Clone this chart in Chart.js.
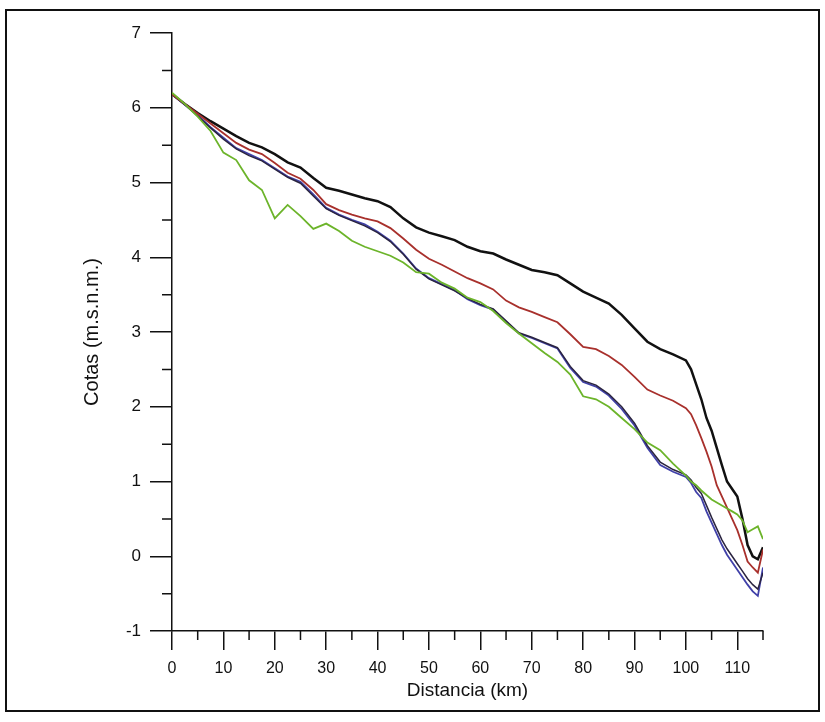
<!DOCTYPE html>
<html>
<head>
<meta charset="utf-8">
<script src="https://cdn.jsdelivr.net/npm/chart.js@4"></script>
<style>
  html, body { margin: 0; padding: 0; background: #fff; }
  #wrap { width: 825px; height: 722px; }
</style>
</head>
<body>
<div id="wrap"><canvas id="perfil" width="825" height="722"></canvas></div>
<script>
// distancias (km)
const distancia = [0, 2.5, 5, 7.5, 10, 12.5, 15, 17.5, 20, 22.5, 25, 27.5, 30, 32.5, 35, 37.5, 40, 42.5, 45, 47.5,
  50, 52.5, 55, 57.5, 60, 62.5, 65, 67.5, 70, 72.5, 75, 77.5, 80, 82.5, 85, 87.5, 90, 92.5, 95, 97.5,
  100, 101, 102, 103, 104, 105, 106, 107, 108, 109, 110, 111, 112, 113, 114, 115];

const cotaNegra = [6.18, 6.05, 5.93, 5.82, 5.72, 5.62, 5.53, 5.47, 5.38, 5.27, 5.20, 5.06, 4.93, 4.89, 4.84, 4.79, 4.75, 4.67, 4.52, 4.40,
  4.33, 4.28, 4.23, 4.14, 4.08, 4.05, 3.97, 3.90, 3.83, 3.80, 3.76, 3.65, 3.54, 3.46, 3.38, 3.23, 3.05, 2.87, 2.77, 2.70,
  2.62, 2.50, 2.30, 2.10, 1.85, 1.68, 1.45, 1.22, 1.00, 0.90, 0.80, 0.50, 0.15, 0.00, -0.04, 0.12];

const cotaRoja = [6.18, 6.05, 5.92, 5.79, 5.66, 5.53, 5.44, 5.38, 5.26, 5.13, 5.05, 4.90, 4.71, 4.63, 4.57, 4.52, 4.48, 4.39, 4.25, 4.10,
  3.98, 3.90, 3.81, 3.72, 3.65, 3.57, 3.42, 3.33, 3.27, 3.20, 3.13, 2.97, 2.80, 2.77, 2.68, 2.56, 2.40, 2.23, 2.15, 2.08,
  1.98, 1.90, 1.75, 1.58, 1.40, 1.20, 0.95, 0.80, 0.65, 0.50, 0.35, 0.15, -0.07, -0.15, -0.22, 0.09];

const cotaAzul = [6.18, 6.04, 5.90, 5.74, 5.60, 5.46, 5.38, 5.30, 5.19, 5.08, 5.01, 4.84, 4.66, 4.57, 4.50, 4.44, 4.34, 4.22, 4.05, 3.85,
  3.72, 3.64, 3.56, 3.44, 3.36, 3.30, 3.14, 2.98, 2.92, 2.85, 2.78, 2.52, 2.33, 2.27, 2.15, 1.97, 1.75, 1.45, 1.22, 1.13,
  1.06, 0.98, 0.86, 0.78, 0.60, 0.45, 0.30, 0.15, 0.02, -0.08, -0.18, -0.28, -0.38, -0.47, -0.53, -0.15];

const cotaOscura = [6.18, 6.04, 5.89, 5.73, 5.58, 5.45, 5.36, 5.29, 5.18, 5.07, 4.99, 4.82, 4.65, 4.56, 4.49, 4.42, 4.33, 4.21, 4.04, 3.84,
  3.71, 3.63, 3.55, 3.45, 3.37, 3.31, 3.15, 2.99, 2.93, 2.86, 2.79, 2.54, 2.35, 2.29, 2.17, 2.00, 1.78, 1.48, 1.26, 1.16,
  1.09, 1.02, 0.92, 0.84, 0.68, 0.52, 0.37, 0.22, 0.10, 0.00, -0.10, -0.20, -0.30, -0.38, -0.44, -0.22];

const cotaVerde = [6.20, 6.05, 5.88, 5.69, 5.40, 5.30, 5.03, 4.90, 4.52, 4.70, 4.55, 4.38, 4.45, 4.35, 4.22, 4.14, 4.08, 4.02, 3.93, 3.80,
  3.78, 3.66, 3.58, 3.46, 3.40, 3.28, 3.12, 2.98, 2.85, 2.72, 2.60, 2.43, 2.14, 2.10, 2.00, 1.85, 1.70, 1.52, 1.42, 1.24,
  1.08, 1.00, 0.95, 0.88, 0.82, 0.76, 0.72, 0.68, 0.64, 0.60, 0.56, 0.48, 0.32, 0.36, 0.40, 0.23];

const ticksX = [0, 10, 20, 30, 40, 50, 60, 70, 80, 90, 100, 110];
const ticksY = [-1, 0, 1, 2, 3, 4, 5, 6, 7];

function puntos(ys) {
  return distancia.map((d, i) => ({ x: d, y: ys[i] }));
}

const fuente = "'Liberation Sans Narrow', 'Liberation Sans', Arial, sans-serif";

// marco y marcas menores
const marcoPlugin = {
  id: 'marco',
  beforeDraw(chart) {
    const ctx = chart.ctx;
    ctx.save();
    ctx.fillStyle = '#fff';
    ctx.fillRect(0, 0, chart.width, chart.height);
    ctx.strokeStyle = '#111';
    ctx.lineWidth = 2;
    ctx.strokeRect(6, 10, 813, 701);
    ctx.restore();
  },
  afterDraw(chart) {
    const ctx = chart.ctx;
    const sx = chart.scales.x, sy = chart.scales.y;
    ctx.save();
    ctx.strokeStyle = '#111';
    ctx.lineWidth = 1.5;
    ctx.beginPath();
    for (let v = 5; v <= 115; v += 10) {
      const px = sx.getPixelForValue(v);
      ctx.moveTo(px, sy.bottom);
      ctx.lineTo(px, sy.bottom + 9);
    }
    for (let v = -0.5; v <= 6.5; v += 1) {
      const py = sy.getPixelForValue(v);
      ctx.moveTo(sx.left, py);
      ctx.lineTo(sx.left - 10, py);
    }
    // extremo derecho del eje x
    const pxEnd = sx.getPixelForValue(115);
    ctx.moveTo(pxEnd, sy.bottom);
    ctx.lineTo(pxEnd, sy.bottom + 9);
    ctx.stroke();
    ctx.restore();
  }
};

new Chart(document.getElementById('perfil').getContext('2d'), {
  type: 'line',
  data: {
    datasets: [
      { data: puntos(cotaVerde), borderColor: '#6cb42a', borderWidth: 1.8 },
      { data: puntos(cotaRoja), borderColor: '#a8302c', borderWidth: 1.8 },
      { data: puntos(cotaOscura), borderColor: '#2a2440', borderWidth: 1.5 },
      { data: puntos(cotaAzul), borderColor: '#4040a8', borderWidth: 1.8 },
      { data: puntos(cotaNegra), borderColor: '#111111', borderWidth: 2.5 }
    ]
  },
  options: {
    responsive: false,
    animation: false,
    events: [],
    elements: { point: { radius: 0 }, line: { tension: 0 } },
    layout: { padding: { left: 0, top: 33, right: 62, bottom: 0 } },
    plugins: { legend: { display: false }, tooltip: { enabled: false } },
    scales: {
      x: {
        type: 'linear',
        min: 0, max: 115,
        afterBuildTicks: (s) => { s.ticks = ticksX.map(v => ({ value: v })); },
        afterFit: (s) => { s.height = 91; },
        border: { display: true, color: '#111', width: 1.5 },
        grid: { display: true, drawOnChartArea: false, drawTicks: true, tickLength: 19, color: '#111', lineWidth: 1.5 },
        ticks: { color: '#111', padding: 9, maxRotation: 0, font: { family: fuente, size: 16 } },
        title: { display: true, text: 'Distancia (km)', color: '#111', font: { family: fuente, size: 19 }, padding: { top: 0, bottom: 20 } }
      },
      y: {
        type: 'linear',
        min: -1, max: 7,
        afterBuildTicks: (s) => { s.ticks = ticksY.map(v => ({ value: v })); },
        afterFit: (s) => { s.width = 172; },
        border: { display: true, color: '#111', width: 1.5 },
        grid: { display: true, drawOnChartArea: false, drawTicks: true, tickLength: 22, color: '#111', lineWidth: 1.5 },
        ticks: { color: '#111', padding: 9, font: { family: fuente, size: 17 } },
        title: { display: true, text: 'Cotas (m.s.n.m.)', color: '#111', font: { family: fuente, size: 20 }, padding: { top: 80, bottom: 0 } }
      }
    }
  },
  plugins: [marcoPlugin]
});
</script>
</body>
</html>
